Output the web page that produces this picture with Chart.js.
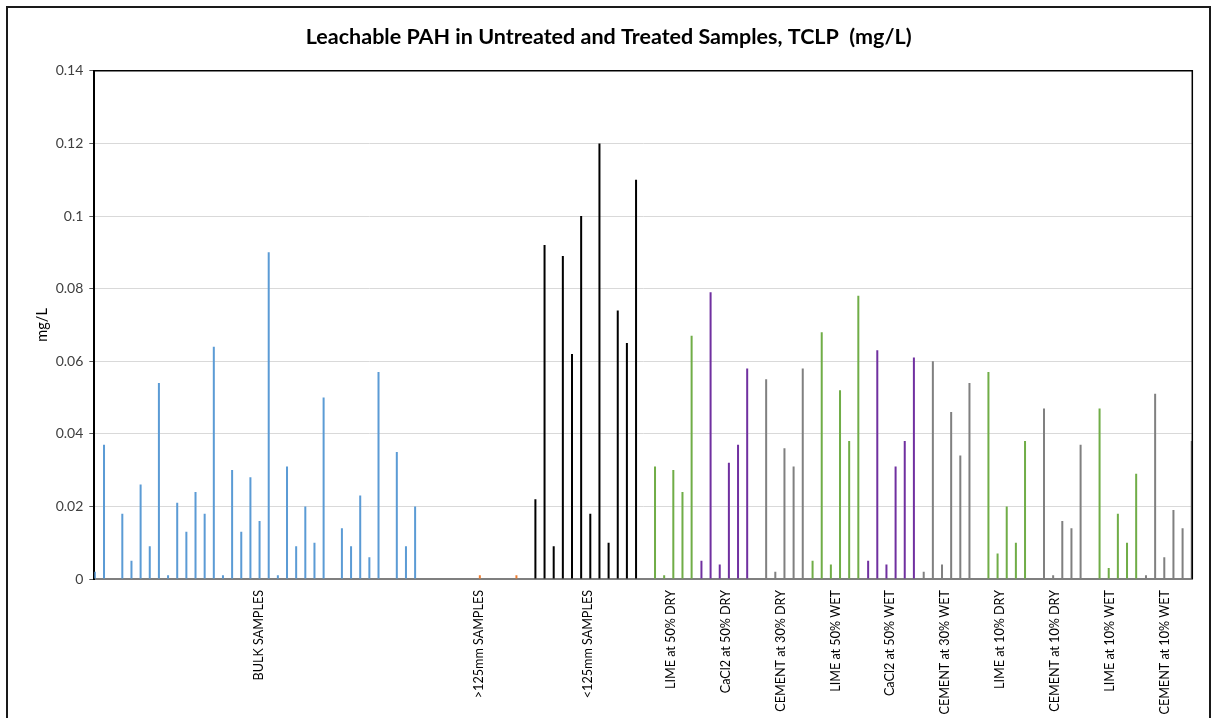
<!DOCTYPE html>
<html>
<head>
<meta charset="utf-8">
<title>Leachable PAH in Untreated and Treated Samples</title>
<script src="https://cdn.jsdelivr.net/npm/chart.js@4.4.1/dist/chart.umd.min.js"></script>
<style>
  html, body { margin: 0; padding: 0; background: #fff; overflow: hidden; }
  #frame { position: absolute; left: 6px; top: 6px; width: 1201px; height: 760px; border: 2px solid #1a1a1a; }
  canvas { display: block; }
</style>
</head>
<body>
<div id="frame"><canvas id="chart" width="1201" height="760"></canvas></div>
<script>
// valores (mg/L), null = muestra sin barra
const bulkSamples = [0.002, 0.037, null, 0.018, 0.005, 0.026, 0.009, 0.054, 0.001, 0.021, 0.013, 0.024,
                     0.018, 0.064, 0.001, 0.030, 0.013, 0.028, 0.016, 0.090, 0.001, 0.031, 0.009, 0.020,
                     0.010, 0.050, null, 0.014, 0.009, 0.023, 0.006, 0.057, null, 0.035, 0.009, 0.020];
const over125mm = [null, null, null, null, null, null, 0.001, null, null, null, 0.001, null];
const under125mm = [0.022, 0.092, 0.009, 0.089, 0.062, 0.100, 0.018, 0.120, 0.010, 0.074, 0.065, 0.110];
const lime50Dry = [null, 0.031, 0.001, 0.030, 0.024, 0.067];
const cacl50Dry = [0.005, 0.079, 0.004, 0.032, 0.037, 0.058];
const cement30Dry = [null, 0.055, 0.002, 0.036, 0.031, 0.058];
const lime50Wet = [0.005, 0.068, 0.004, 0.052, 0.038, 0.078];
const cacl50Wet = [0.005, 0.063, 0.004, 0.031, 0.038, 0.061];
const cement30Wet = [0.002, 0.060, 0.004, 0.046, 0.034, 0.054];
const lime10Dry = [null, 0.057, 0.007, 0.020, 0.010, 0.038];
const cement10Dry = [null, 0.047, 0.001, 0.016, 0.014, 0.037];
const lime10Wet = [null, 0.047, 0.003, 0.018, 0.010, 0.029];
const cement10Wet = [0.001, 0.051, 0.006, 0.019, 0.014, 0.038];

const groupNames = ['BULK SAMPLES', '>125mm SAMPLES', '<125mm SAMPLES', 'LIME at 50% DRY', 'CaCl2 at 50% DRY',
                    'CEMENT at 30% DRY', 'LIME at 50% WET', 'CaCl2 at 50% WET', 'CEMENT at 30% WET',
                    'LIME at 10% DRY', 'CEMENT at 10% DRY', 'LIME at 10% WET', 'CEMENT at 10% WET'];
const groupValues = [bulkSamples, over125mm, under125mm, lime50Dry, cacl50Dry, cement30Dry, lime50Wet,
                     cacl50Wet, cement30Wet, lime10Dry, cement10Dry, lime10Wet, cement10Wet];
const groupColors = ['#5b9bd5', '#ed7d31', '#000000', '#70ad47', '#7030a0', '#808080', '#70ad47',
                     '#7030a0', '#808080', '#70ad47', '#808080', '#70ad47', '#808080'];

const yTicks = [0, 0.02, 0.04, 0.06, 0.08, 0.1, 0.12, 0.14];
const yTickLabels = ['0', '0.02', '0.04', '0.06', '0.08', '0.1', '0.12', '0.14'];

const fontFamily = 'Lato, "Liberation Sans", sans-serif';

// una serie por grupo, como en el libro de Excel
const totalSamples = groupValues.reduce((n, g) => n + g.length, 0);
const sampleLabels = [];
for (let i = 0; i < totalSamples; i++) sampleLabels.push('M' + (i + 1));

const groupTickLabels = new Array(totalSamples + 1).fill('');
const datasets = [];
let start = 0;
groupValues.forEach((vals, g) => {
    const data = new Array(totalSamples).fill(null);
    vals.forEach((v, i) => { data[start + i] = v; });
    datasets.push({
        label: groupNames[g],
        data: data,
        backgroundColor: groupColors[g],
        xAxisID: 'x',
        yAxisID: 'y'
    });
    groupTickLabels[start + vals.length / 2] = groupNames[g];
    start += vals.length;
});

// borde superior y derecho del area de trazado
const plotBorder = {
    id: 'plotBorder',
    afterDatasetsDraw(chart) {
        const a = chart.chartArea;
        const ctx = chart.ctx;
        ctx.save();
        ctx.strokeStyle = '#000';
        ctx.lineWidth = 1.5;
        ctx.beginPath();
        ctx.moveTo(a.left, a.top);
        ctx.lineTo(a.right, a.top);
        ctx.lineTo(a.right, a.bottom);
        ctx.stroke();
        ctx.restore();
    }
};

const ctx = document.getElementById('chart').getContext('2d');

new Chart(ctx, {
    type: 'bar',
    data: {
        labels: sampleLabels,
        datasets: datasets
    },
    options: {
        responsive: false,
        animation: false,
        layout: { padding: { left: 17, right: 16.7, top: 0, bottom: 0 } },
        datasets: {
            bar: { categoryPercentage: 0.95, barPercentage: 3 }
        },
        scales: {
            x: {
                display: false,
                offset: true
            },
            x2: {
                type: 'category',
                labels: groupTickLabels,
                position: 'bottom',
                offset: false,
                grid: { display: false, drawTicks: false },
                border: { display: true, color: '#7f7f7f', width: 2 },
                ticks: {
                    autoSkip: false,
                    minRotation: 90,
                    maxRotation: 90,
                    padding: 11,
                    color: '#000',
                    font: { family: fontFamily, size: 12.6 }
                },
                afterFit: (scale) => {
                    scale.height = 189;
                    scale.paddingLeft = 0;
                    scale.paddingRight = 0;
                }
            },
            y: {
                min: 0,
                max: 0.14,
                afterBuildTicks: (scale) => { scale.ticks = yTicks.map(v => ({ value: v })); },
                grid: { color: '#d9d9d9', tickColor: '#595959', tickLength: 5, lineWidth: 1 },
                border: { display: true, color: '#000', width: 2 },
                ticks: {
                    padding: 6,
                    color: '#404040',
                    font: { family: fontFamily, size: 14 },
                    callback: (value, index) => yTickLabels[index]
                },
                title: {
                    display: true,
                    text: 'mg/L',
                    color: '#000',
                    font: { family: fontFamily, size: 14.5 },
                    padding: { top: 9, bottom: 0 }
                },
                afterFit: (scale) => { scale.width = 69.3; }
            }
        },
        plugins: {
            legend: { display: false },
            tooltip: { enabled: false },
            title: {
                display: true,
                text: 'Leachable PAH in Untreated and Treated Samples, TCLP  (mg/L)',
                color: '#000',
                font: { family: fontFamily, size: 21.5, weight: 'bold' },
                padding: { top: 16, bottom: 21 }
            }
        }
    },
    plugins: [plotBorder]
});
</script>
</body>
</html>
